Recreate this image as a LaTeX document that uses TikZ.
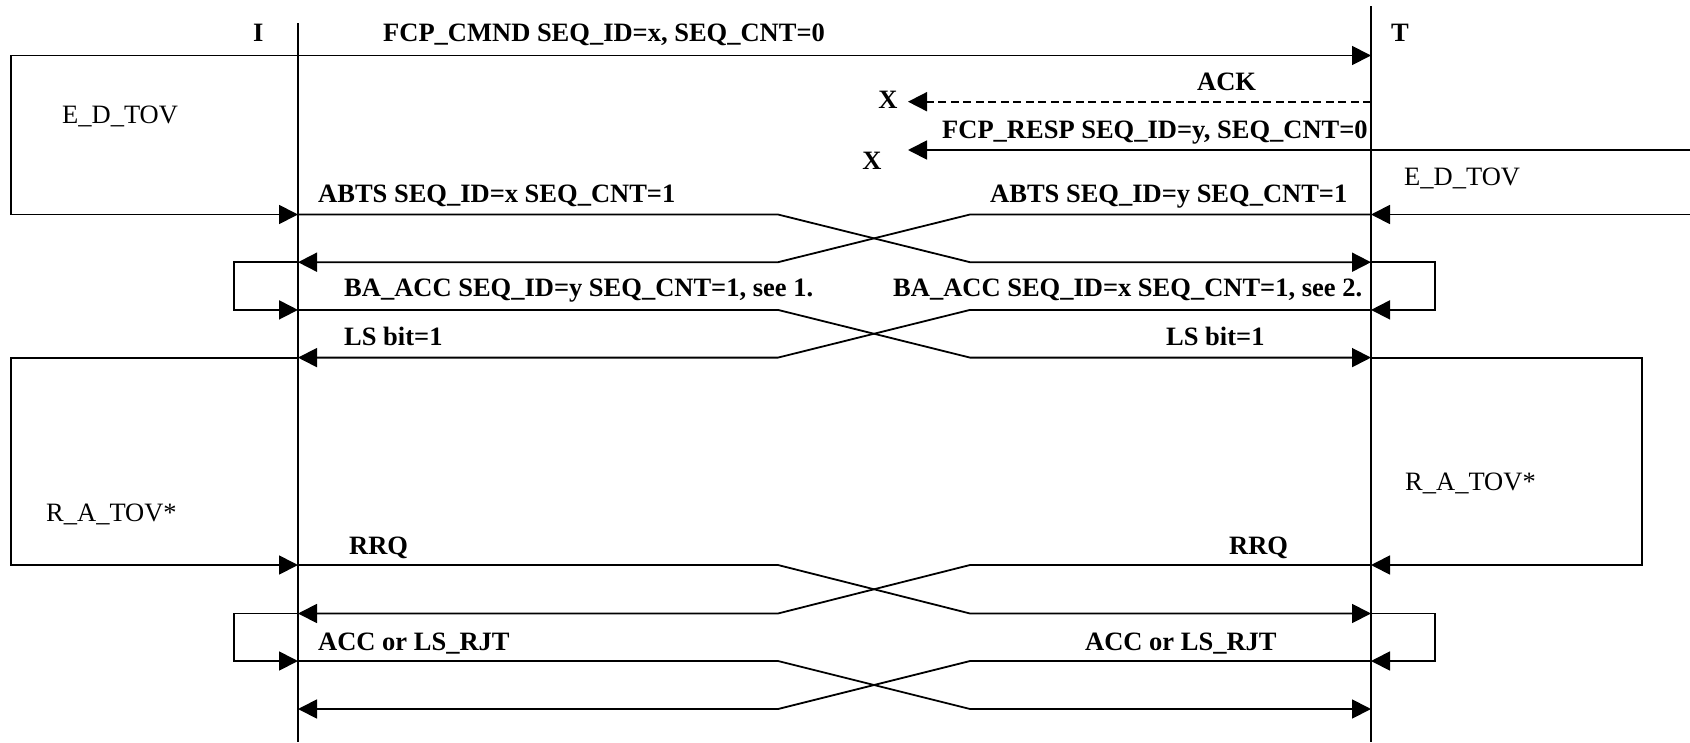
\documentclass[tikz,border=0pt]{standalone}
\usepackage{fontspec}
\setmainfont{Liberation Serif}
\usetikzlibrary{arrows.meta}
\tikzset{
  ln/.style={line width=1.8pt},
  arr/.style={ln,-{Triangle[length=19pt,width=19pt]}},
  lbl/.style={font=\fontsize{26.5}{30}\selectfont\bfseries, inner sep=0pt, anchor=base west},
  tlbl/.style={font=\fontsize{26.5}{30}\selectfont, inner sep=0pt, anchor=base west},
}
\begin{document}
\begin{tikzpicture}[x=1pt,y=-1pt]
\useasboundingbox (0,0) rectangle (1690,742);
% x references
\coordinate (L)  at (10.8,0);
\coordinate (LL) at (234,0);
\coordinate (A)  at (778,0);
\coordinate (B)  at (970,0);
\coordinate (XT) at (908,0);
\coordinate (RL) at (1435,0);
\coordinate (RB) at (1642,0);
\coordinate (RE) at (1692,0);
% rows on the lifelines
\foreach \n/\y in {F/55.5,K/101.7,P/150,0/214.5,1/262.2,2/309.9,3/357.6,4/565,5/613.5,6/661,7/709}{
  \coordinate (I\n) at (298,\y);
  \coordinate (T\n) at (1371,\y);
}
% lifelines
\coordinate (Itop) at (298,23);
\coordinate (Ibot) at (298,742);
\coordinate (Ttop) at (1371,6);
\coordinate (Tbot) at (1371,742);
\draw[ln] (Itop) -- (Ibot);
\draw[ln] (Ttop) -- (Tbot);

% labels of lifelines
\node[lbl] (lI) at (253,41.5) {I};
\node[lbl] (lT) at (1391,41.5) {T};

% FCP_CMND and left E_D_TOV box
\draw[arr] (IF) -- (TF);
\draw[arr] (IF) -- (IF -| L) -- (I0 -| L) -- (I0);
\node[lbl] (tcmnd) at (383,41) {FCP\_CMND SEQ\_ID=x, SEQ\_CNT=0};
\node[tlbl] (tedl) at (62,123) {E\_D\_TOV};

% ACK (dashed) and FCP_RESP
\draw[arr,dash pattern=on 8pt off 4.5pt] (TK) -- (TK -| XT);
\node[lbl] (tack) at (1197,90) {ACK};
\node[lbl,anchor=center] (x1) at (888,100) {X};
\draw[arr] (TP -| RE) -- (TP -| XT);
\node[lbl] (tresp) at (942,138) {FCP\_RESP SEQ\_ID=y, SEQ\_CNT=0};
\node[lbl,anchor=center] (x2) at (872,161) {X};
\node[tlbl] (tedr) at (1404,185) {E\_D\_TOV};
\draw[arr] (T0 -| RE) -- (T0);

% ABTS crossing
\draw[arr] (I0) -- (I0 -| A) -- (T1 -| B) -- (T1);
\draw[arr] (T0) -- (T0 -| B) -- (I1 -| A) -- (I1);
\node[lbl] (tabx) at (318,202) {ABTS SEQ\_ID=x SEQ\_CNT=1};
\node[lbl] (taby) at (990,202) {ABTS SEQ\_ID=y SEQ\_CNT=1};

% small loops
\draw[arr] (I1) -- (I1 -| LL) -- (I2 -| LL) -- (I2);
\draw[arr] (T1) -- (T1 -| RL) -- (T2 -| RL) -- (T2);

% BA_ACC crossing
\draw[arr] (I2) -- (I2 -| A) -- (T3 -| B) -- (T3);
\draw[arr] (T2) -- (T2 -| B) -- (I3 -| A) -- (I3);
\node[lbl] (tbay) at (344,296) {BA\_ACC SEQ\_ID=y SEQ\_CNT=1, see 1.};
\node[lbl] (tbax) at (893,296) {BA\_ACC SEQ\_ID=x SEQ\_CNT=1, see 2.};
\node[lbl] (tlsl) at (344,345) {LS bit=1};
\node[lbl] (tlsr) at (1166,345) {LS bit=1};

% R_A_TOV boxes
\draw[arr] (I3) -- (I3 -| L) -- (I4 -| L) -- (I4);
\draw[arr] (T3) -- (T3 -| RB) -- (T4 -| RB) -- (T4);
\node[tlbl] (tral) at (46,521) {R\_A\_TOV*};
\node[tlbl] (trar) at (1405,490) {R\_A\_TOV*};

% RRQ crossing
\draw[arr] (I4) -- (I4 -| A) -- (T5 -| B) -- (T5);
\draw[arr] (T4) -- (T4 -| B) -- (I5 -| A) -- (I5);
\node[lbl] (trrql) at (349,554) {RRQ};
\node[lbl] (trrqr) at (1229,554) {RRQ};

% small loops
\draw[arr] (I5) -- (I5 -| LL) -- (I6 -| LL) -- (I6);
\draw[arr] (T5) -- (T5 -| RL) -- (T6 -| RL) -- (T6);

% ACC or LS_RJT crossing
\draw[arr] (I6) -- (I6 -| A) -- (T7 -| B) -- (T7);
\draw[arr] (T6) -- (T6 -| B) -- (I7 -| A) -- (I7);
\node[lbl] (taccl) at (318,650) {ACC or LS\_RJT};
\node[lbl] (taccr) at (1085,650) {ACC or LS\_RJT};
\end{tikzpicture}
\end{document}
